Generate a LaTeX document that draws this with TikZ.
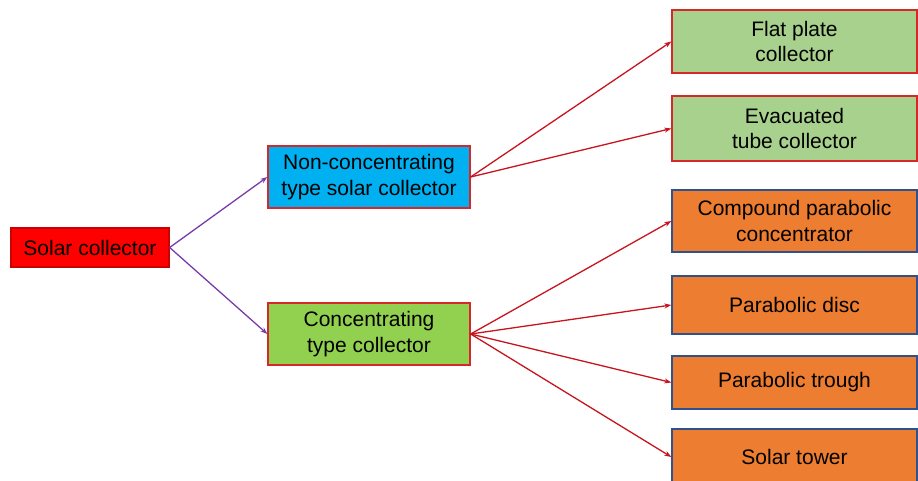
\documentclass[tikz,border=0pt]{standalone}
\usepackage{fontspec}
\setmainfont{Liberation Sans}
\usetikzlibrary{arrows.meta}
\definecolor{boxred}{RGB}{255,0,0}
\definecolor{boxcyan}{RGB}{0,176,240}
\definecolor{boxlime}{RGB}{146,208,80}
\definecolor{boxsage}{RGB}{169,209,142}
\definecolor{boxorange}{RGB}{237,125,49}
\definecolor{edgered}{RGB}{214,40,40}
\definecolor{edgeblue}{RGB}{47,82,143}
\definecolor{linkpurple}{RGB}{120,60,170}
\definecolor{linkred}{RGB}{200,20,30}
\begin{document}
\begin{tikzpicture}[x=1pt, y=1pt,
    box/.style={draw=edgered, line width=1.3pt, align=center, inner sep=0pt,
        font=\fontsize{21}{25.5}\selectfont},
    orangebox/.style={box, draw=edgeblue, fill=boxorange, minimum width=245pt},
    sagebox/.style={box, fill=boxsage, minimum width=245pt},
    midbox/.style={box, minimum width=202pt, minimum height=62pt},
    link/.style={line width=1.3pt, -{Stealth[length=7pt, width=5pt]}}]
        \useasboundingbox (0,0) rectangle (918,480);
        \node[box, fill=boxred, draw=red!80!black, minimum width=158pt, minimum height=39pt] (sc) at (90,232.5) {Solar collector};
        \node[midbox, fill=boxcyan] (nc) at (369,303) {Non-concentrating\\type solar collector};
        \node[midbox, fill=boxlime] (cc) at (369,146) {Concentrating\\type collector};
        \node[sagebox, minimum height=63pt] (fp) at (794.5,438.5) {Flat plate\\collector};
        \node[sagebox, minimum height=65pt] (ev) at (794.5,351.5) {Evacuated\\tube collector};
        \node[orangebox, minimum height=62pt] (cp) at (794.5,259) {Compound parabolic\\concentrator};
        \node[orangebox, minimum height=58pt] (pd) at (794.5,175) {Parabolic disc};
        \node[orangebox, minimum height=53pt] (pt) at (794.5,97.5) {Parabolic trough};
        \node[orangebox, minimum height=56pt] (st) at (794.5,23) {Solar tower};
        \draw[link, linkpurple] (sc.east) -- (nc.west);
        \draw[link, linkpurple] (sc.east) -- (cc.west);
        \foreach \dest in {fp, ev}
            \draw[link, linkred] (nc.east) -- (\dest.west);
        \foreach \dest in {cp, pd, pt, st}
            \draw[link, linkred] (cc.east) -- (\dest.west);
    \end{tikzpicture}
\end{document}
